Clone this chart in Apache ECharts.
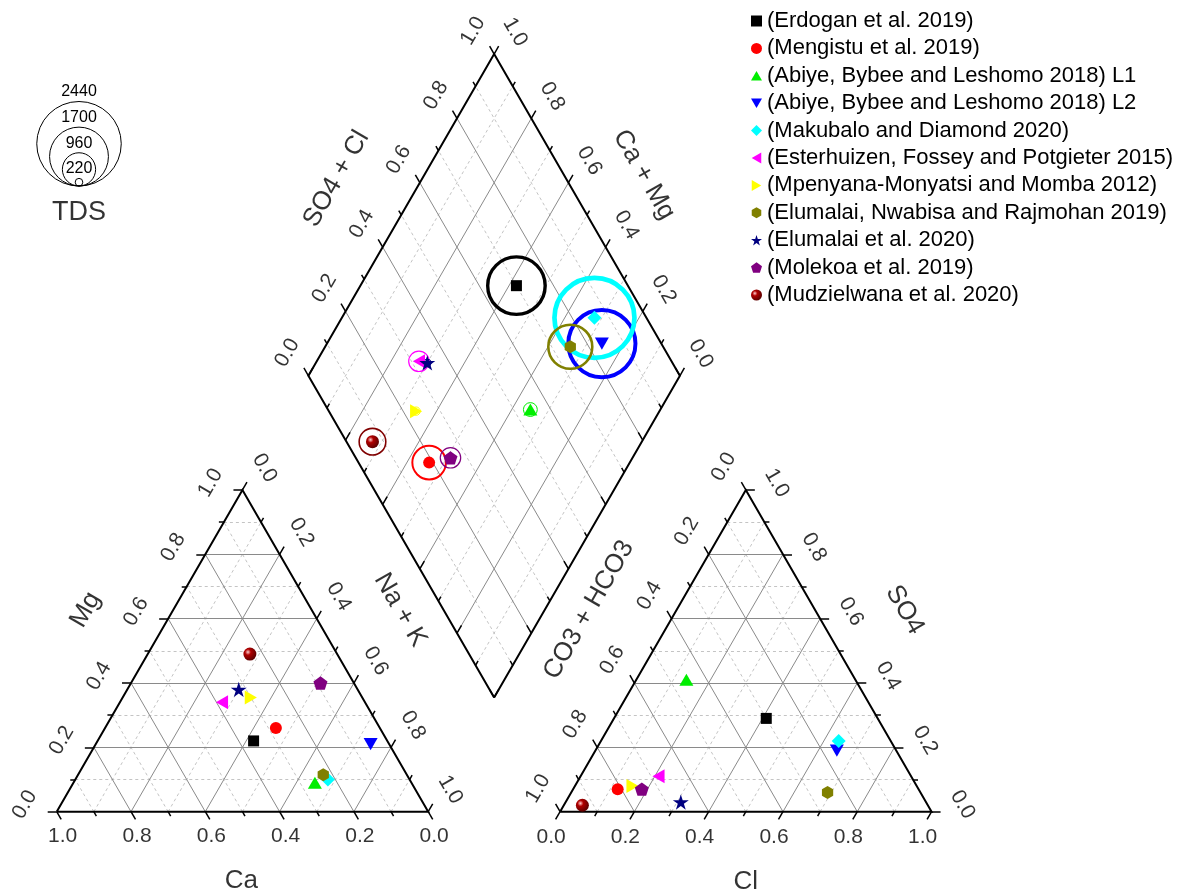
<!DOCTYPE html>
<html>
<head>
<meta charset="utf-8">
<title>Piper diagram</title>
<script src="https://cdn.jsdelivr.net/npm/echarts@6/dist/echarts.min.js"></script>
<style>
    html, body { margin: 0; padding: 0; background: #fff; }
    #chart { width: 1191px; height: 894px; }
</style>
</head>
<body>
<div id="chart"></div>
<script>
// ---- data (fractions of meq) ----
var studies = [
    '(Erdogan et al. 2019)',
    '(Mengistu et al. 2019)',
    '(Abiye, Bybee and Leshomo 2018) L1',
    '(Abiye, Bybee and Leshomo 2018) L2',
    '(Makubalo and Diamond 2020)',
    '(Esterhuizen, Fossey and Potgieter 2015)',
    '(Mpenyana-Monyatsi and Momba 2012)',
    '(Elumalai, Nwabisa and Rajmohan 2019)',
    '(Elumalai et al. 2020)',
    '(Molekoa et al. 2019)',
    '(Mudzielwana et al. 2020)'
];
var caFrac  = [0.36, 0.28, 0.26, 0.05, 0.22, 0.385, 0.30, 0.225, 0.32, 0.09, 0.235];
var mgFrac  = [0.22, 0.26, 0.09, 0.21, 0.10, 0.34, 0.355, 0.115, 0.38, 0.40, 0.49];
var clFrac  = [0.41, 0.12, 0.135, 0.65, 0.64, 0.21, 0.155, 0.69, 0.31, 0.185, 0.05];
var so4Frac = [0.29, 0.07, 0.41, 0.19, 0.22, 0.11, 0.08, 0.06, 0.03, 0.07, 0.02];
var tdsValue = [1660, 970, 400, 1940, 2310, 590, 240, 1270, 220, 590, 770];

var tdsLegendValues = [2440, 1700, 960, 220];
var tickValues = [0, 0.1, 0.2, 0.3, 0.4, 0.5, 0.6, 0.7, 0.8, 0.9, 1.0];
var majorGrid = [0.2, 0.4, 0.6, 0.8];
var minorGrid = [0.1, 0.3, 0.5, 0.7, 0.9];

// ---- look ----
var colors = ['#000000', '#ff0000', '#00ee00', '#0000ff', '#00ffff', '#ff00ff',
              '#ffff00', '#808000', '#000080', '#800080', '#800000'];
var triUp = 'path://M50,0L100,86.6L0,86.6Z';
var triDown = 'path://M0,0L100,0L50,86.6Z';
var triLeft = 'path://M0,50L86.6,0L86.6,100Z';
var triRight = 'path://M0,0L86.6,50L0,100Z';
var hexagon = 'path://M50,0L93.3,25L93.3,75L50,100L6.7,75L6.7,25Z';
var pentagon = 'path://M50,0L97.6,34.5L79.4,90.5L20.6,90.5L2.4,34.5Z';
var star = 'path://M50,0L61.17,34.63L97.55,34.55L68.07,55.87L79.39,90.45L50,69L20.61,90.45L31.93,55.87L2.45,34.55L38.83,34.63Z';
var symbols = ['rect', 'circle', triUp, triDown, 'diamond', triLeft,
               triRight, hexagon, star, pentagon, 'circle'];
var sizes = [11, 12, 14, 14, 14, 14, 14, 13, 16, 14, 13];
var FONT = '"Liberation Sans", Arial, sans-serif';

// ---- geometry (unit = triangle side) ----
var H = Math.sqrt(3) / 2;
var GAP = 0.355;
var PX = 371.5;            // pixels per unit
var ORIGIN = [56.7, 811.7]; // pixel of the Ca corner
var BX = 1 + GAP / 2, BY = GAP * H;
var TDS_PX = 84.5 / 2440;  // circle diameter in px per mg/L

function cat(ca, mg) { var nak = 1 - ca - mg; return [nak + 0.5 * mg, H * mg]; }
function an(cl, so4) { return [1 + GAP + cl + 0.5 * so4, H * so4]; }
function dia(u, v) { return [BX + 0.5 * (u - v), BY + H * (u + v)]; }
function shift(p, dx, dy) { return [p[0] + dx / PX, p[1] - dy / PX]; } // dx,dy in screen px
function along(p, d, len) { return [p[0] + d[0] * len / PX, p[1] + d[1] * len / PX]; }

// grid lines
function gridSegs(list) {
    var segs = [];
    list.forEach(function (t) {
        segs.push([cat(1 - t, t), cat(0, t)]);
        segs.push([cat(t, 0), cat(t, 1 - t)]);
        segs.push([cat(1 - t, 0), cat(0, 1 - t)]);
        segs.push([an(0, t), an(1 - t, t)]);
        segs.push([an(t, 0), an(t, 1 - t)]);
        segs.push([an(1 - t, 0), an(0, 1 - t)]);
        segs.push([dia(t, 0), dia(t, 1)]);
        segs.push([dia(0, t), dia(1, t)]);
    });
    return segs.map(function (s) { return { coords: s }; });
}

var frames = [
    { coords: [cat(1, 0), cat(0, 0), cat(0, 1), cat(1, 0)] },
    { coords: [an(0, 0), an(1, 0), an(0, 1), an(0, 0)] },
    { coords: [dia(0, 0), dia(1, 0), dia(1, 1), dia(0, 1), dia(0, 0)] }
];

// axes: where the tick sits, which way it points, label offset, label rotation
var axes = [
    { at: function (t) { return cat(t, 0); },       dir: [0.5, -H], off: [6, 25],    rot: 0 },
    { at: function (t) { return cat(1 - t, t); },   dir: [-1, 0],   off: [-32, -7],  rot: 60 },
    { at: function (t) { return cat(0, 1 - t); },   dir: [0.5, H],  off: [22, -22],  rot: -60 },
    { at: function (t) { return an(t, 0); },        dir: [-0.5, -H], off: [-9, 26],  rot: 0 },
    { at: function (t) { return an(0, 1 - t); },    dir: [-0.5, H], off: [-22, -23], rot: 60 },
    { at: function (t) { return an(1 - t, t); },    dir: [1, 0],    off: [31, -7],   rot: -60 },
    { at: function (t) { return dia(t, 1); },       dir: [-0.5, H], off: [-21, -23], rot: 60 },
    { at: function (t) { return dia(1, t); },       dir: [0.5, H],  off: [21, -22],  rot: -60 },
    { at: function (t) { return dia(0, t); },       dir: [0.5, H],  off: null },
    { at: function (t) { return dia(t, 0); },       dir: [-0.5, H], off: null }
];

var ticks = [], tickLabels = [];
axes.forEach(function (ax) {
    tickValues.forEach(function (t, i) {
        var p = ax.at(t);
        var major = i % 2 === 0;
        ticks.push({ coords: [p, along(p, ax.dir, major ? 9 : 5)] });
        if (ax.off && major) {
            tickLabels.push({
                name: t.toFixed(1),
                value: shift(p, ax.off[0], ax.off[1]),
                label: { rotate: ax.rot }
            });
        }
    });
});

var titles = [
    { name: 'Ca', value: shift(cat(0.5, 0), -1, 69), label: { rotate: 0 } },
    { name: 'Mg', value: shift(cat(0.5, 0.5), -64, -41), label: { rotate: 60 } },
    { name: 'Na + K', value: shift(cat(0, 0.5), 65, -41), label: { rotate: -60 } },
    { name: 'Cl', value: shift(an(0.5, 0), 0, 70), label: { rotate: 0 } },
    { name: 'CO3 + HCO3', value: shift(an(0, 0.5), -64, -41), label: { rotate: 60 } },
    { name: 'SO4', value: shift(an(0.5, 0.5), 66, -41), label: { rotate: -60 } },
    { name: 'SO4 + Cl', value: shift(dia(0.5, 1), -65, -36), label: { rotate: 60 } },
    { name: 'Ca + Mg', value: shift(dia(1, 0.5), 57, -40), label: { rotate: -60 } }
];

// TDS size key, circles resting on one bottom point
var keyBottom = [(79 - ORIGIN[0]) / PX, (ORIGIN[1] - 186) / PX];
var keyCircles = tdsLegendValues.map(function (v) {
    var d = v * TDS_PX;
    return {
        name: String(v),
        value: [keyBottom[0], keyBottom[1] + d / 2 / PX],
        symbolSize: d
    };
});

var tdsCircles = [];
var seriesList = [
    { type: 'lines', coordinateSystem: 'cartesian2d', silent: true, z: 1, data: gridSegs(minorGrid),
      lineStyle: { color: '#c4c4c4', width: 1, type: [3, 3], opacity: 1 } },
    { type: 'lines', coordinateSystem: 'cartesian2d', silent: true, z: 1, data: gridSegs(majorGrid),
      lineStyle: { color: '#8a8a8a', width: 1, opacity: 1 } },
    { type: 'lines', coordinateSystem: 'cartesian2d', silent: true, z: 2, polyline: true, data: frames,
      lineStyle: { color: '#000', width: 2, opacity: 1 } },
    { type: 'lines', coordinateSystem: 'cartesian2d', silent: true, z: 2, data: ticks,
      lineStyle: { color: '#000', width: 1.5, opacity: 1 } },
    { type: 'scatter', silent: true, z: 4, symbolSize: 1, itemStyle: { color: 'rgba(0,0,0,0)' },
      data: tickLabels,
      label: { show: true, position: 'inside', formatter: '{b}', fontSize: 21, fontFamily: FONT, color: '#000',
               align: 'center', verticalAlign: 'middle' } },
    { type: 'scatter', silent: true, z: 4, symbolSize: 1, itemStyle: { color: 'rgba(0,0,0,0)' },
      data: titles,
      label: { show: true, position: 'inside', formatter: '{b}', fontSize: 26, fontFamily: FONT, color: '#000',
               align: 'center', verticalAlign: 'middle' } },
    { type: 'scatter', silent: true, z: 4, symbolSize: 1, itemStyle: { color: 'rgba(0,0,0,0)' },
      data: [{ name: 'TDS', value: shift(keyBottom, 0, 27) }],
      label: { show: true, position: 'inside', formatter: '{b}', fontSize: 27, fontFamily: FONT, color: '#000',
               align: 'center', verticalAlign: 'middle' } },
    { type: 'scatter', silent: true, z: 3, symbol: 'circle', data: keyCircles,
      itemStyle: { color: 'rgba(0,0,0,0)', borderColor: '#000', borderWidth: 1, opacity: 1 },
      label: { show: true, position: 'top', distance: 1, formatter: '{b}', fontSize: 16, fontFamily: FONT, color: '#000' } }
];

studies.forEach(function (name, i) {
    var u = clFrac[i] + so4Frac[i];
    var v = caFrac[i] + mgFrac[i];
    var d = tdsValue[i] * TDS_PX;
    tdsCircles.push({
        value: dia(u, v),
        symbolSize: d,
        itemStyle: { borderColor: colors[i], borderWidth: Math.max(1, d / 17) }
    });
});
seriesList.push({
    type: 'scatter', name: 'TDS', silent: true, z: 3, symbol: 'circle', data: tdsCircles,
    itemStyle: { color: 'rgba(0,0,0,0)', opacity: 1 }
});

studies.forEach(function (name, i) {
    var u = clFrac[i] + so4Frac[i];
    var v = caFrac[i] + mgFrac[i];
    var color = colors[i];
    if (i === 10) {
        color = new echarts.graphic.RadialGradient(0.35, 0.35, 0.65, [
            { offset: 0, color: '#ffd0d0' },
            { offset: 0.35, color: '#b00000' },
            { offset: 1, color: '#600000' }
        ]);
    }
    seriesList.push({
        type: 'scatter',
        name: name,
        silent: true,
        z: 5,
        symbol: symbols[i],
        symbolKeepAspect: true,
        symbolSize: sizes[i],
        itemStyle: { color: color, opacity: 1 },
        data: [cat(caFrac[i], mgFrac[i]), an(clFrac[i], so4Frac[i]), dia(u, v)]
    });
});

var myChart = echarts.init(document.getElementById('chart'));
var option = {
    animation: false,
    backgroundColor: '#fff',
    grid: { left: 0, right: 0, top: 0, bottom: 0, containLabel: false },
    xAxis: { type: 'value', min: -ORIGIN[0] / PX, max: (1191 - ORIGIN[0]) / PX, show: false },
    yAxis: { type: 'value', min: -(894 - ORIGIN[1]) / PX, max: ORIGIN[1] / PX, show: false },
    legend: {
        data: studies,
        orient: 'vertical',
        left: 746,
        top: 5,
        itemWidth: 11,
        itemHeight: 11,
        itemGap: 5.4,
        selectedMode: false,
        textStyle: { fontSize: 22, lineHeight: 22, fontFamily: FONT, color: '#000' }
    },
    series: seriesList
};
myChart.setOption(option);
</script>
</body>
</html>
